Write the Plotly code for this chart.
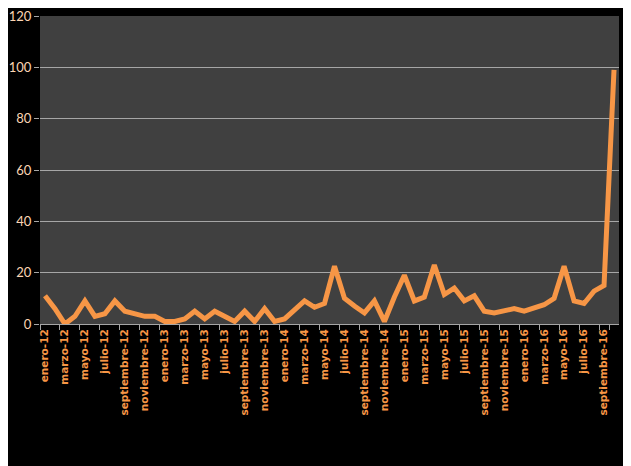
import plotly.graph_objects as go

years = ["12", "13", "14", "15", "16"]
month_names = ["enero", "febrero", "marzo", "abril", "mayo", "junio", "julio",
               "agosto", "septiembre", "octubre", "noviembre", "diciembre"]
months = [f"{m}-{y}" for y in years for m in month_names][:58]

values = [11, 6, 0, 3, 9, 3, 4, 9, 5, 4, 3, 3,
          1, 1, 2, 5, 2, 5, 3, 1, 5, 1, 6, 1,
          2, 5.5, 9, 6.5, 8, 22.5, 10, 7, 4.3, 9, 1, 10.5,
          19, 9, 10.5, 23, 11.5, 14, 9, 11, 5, 4.3, 5, 6,
          5, 6, 7.5, 10, 22.5, 9, 8, 12.8, 15, 99]

tick_labels = months[::2]

fig = go.Figure(go.Scatter(
    x=months, y=values, mode="lines",
    line=dict(color="#F79646", width=5),
    hoverinfo="skip",
))

fig.update_layout(
    width=623, height=458,
    paper_bgcolor="#000000",
    plot_bgcolor="#404040",
    margin=dict(l=32, r=12, t=8, b=142),
    showlegend=False,
)
fig.update_xaxes(
    type="category",
    tickmode="array", tickvals=tick_labels, ticktext=tick_labels,
    tickangle=-90,
    tickson="boundaries",
    ticks="outside", ticklen=5, tickcolor="#A6A6A6",
    tickfont=dict(family="DejaVu Sans", size=10.5, color="#F79646", weight="bold"),
    showgrid=False,
    showline=True, linecolor="#A6A6A6", linewidth=1,
    range=[-0.5, len(months) - 0.5],
    automargin=False,
)
fig.update_yaxes(
    range=[0, 120], dtick=20,
    showgrid=True, gridcolor="#A6A6A6", gridwidth=1,
    ticks="outside", ticklen=5, tickcolor="#A6A6A6",
    tickfont=dict(family="Lato", size=13, color="#FCD5B4"),
    ticklabeloverflow="allow",
    zeroline=False, showline=False,
    automargin=False,
)

fig.write_html("out.html")
